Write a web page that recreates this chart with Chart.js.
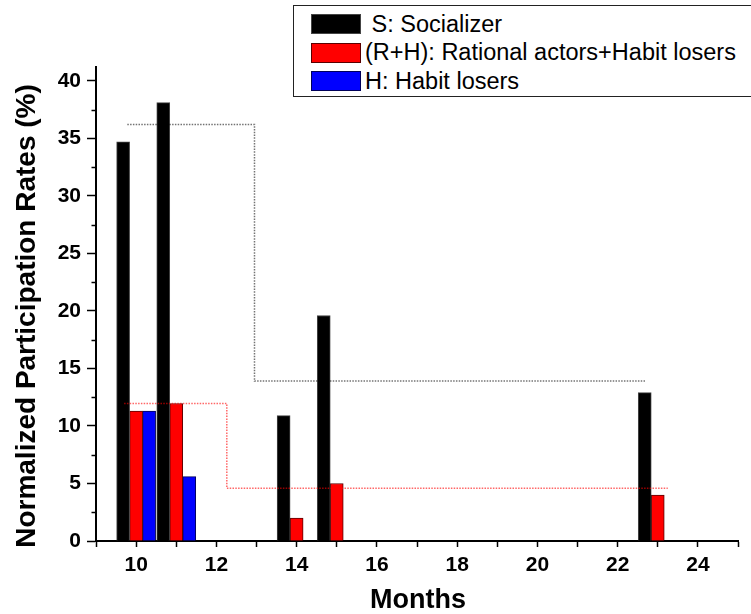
<!DOCTYPE html>
<html>
<head>
<meta charset="utf-8">
<title>Normalized Participation Rates</title>
<script src="https://cdn.jsdelivr.net/npm/chart.js@4.4.1/dist/chart.umd.min.js"></script>
<style>
    html, body { margin: 0; padding: 0; background: #fff; overflow: hidden; }
    #wrap { position: relative; width: 751px; height: 614px; }
    #legend {
        position: absolute; left: 293px; top: 5px; width: 480px; height: 92px;
        border: 1px solid #222; box-sizing: border-box; background: #fff;
        font: 23.5px "Liberation Sans", Arial, sans-serif; color: #000;
    }
    .lg-row { position: absolute; left: 17px; height: 20px; display: flex; align-items: center; white-space: pre; }
    .lg-sw { width: 50px; height: 20px; box-sizing: border-box; border: 1px solid; margin-right: 4px; }
</style>
</head>
<body>
<div id="wrap">
    <canvas id="chart" width="751" height="614"></canvas>
    <div id="legend"></div>
</div>
<script>
/* ---- data ---- */
const months = [10, 11, 14, 15, 23];
const socializer = [34.7, 38.1, 10.9, 19.6, 12.9];
const rationalHabit = [11.3, 11.95, 2.0, 5.0, 4.0];
const habitMonths = [10, 11];
const habitLosers = [11.3, 5.6];

// dotted step lines (period averages)
const sStepX = [9.78, 12.95, 12.95, 22.7];
const sStepY = [36.2, 36.2, 13.9, 13.9];
const rhStepX = [9.7, 12.26, 12.26, 23.25];
const rhStepY = [11.95, 11.95, 4.58, 4.58];

const seriesLabels = [' S: Socializer', '(R+H): Rational actors+Habit losers', 'H: Habit losers'];
const seriesColors = ['#000000', '#ff0000', '#0000ff'];
const seriesBorders = ['#444444', '#5a0000', '#00005a'];

const xTitle = 'Months';
const yTitle = 'Normalized Participation Rates (%)';

const FONT = '"Liberation Sans", Arial, sans-serif';

const toPoints = (xs, ys) => xs.map((x, i) => ({ x, y: ys[i] }));

// minor ticks on the y axis are shorter than the labelled ones
const minorTicks = {
    id: 'minorTicks',
    afterDraw(chart) {
        const { ctx, scales: { y } } = chart;
        ctx.save();
        ctx.strokeStyle = '#000';
        ctx.lineWidth = 1.5;
        y.ticks.forEach(t => {
            if (t.value % 5 === 0) return;
            const py = Math.round(y.getPixelForValue(t.value)) + 0.5;
            ctx.beginPath();
            ctx.moveTo(y.right - 4.5, py);
            ctx.lineTo(y.right, py);
            ctx.stroke();
        });
        ctx.restore();
    }
};

const axisTitles = {
    id: 'axisTitles',
    afterDraw(chart) {
        const { ctx, chartArea } = chart;
        ctx.save();
        ctx.fillStyle = '#000';
        ctx.textAlign = 'center';
        ctx.textBaseline = 'alphabetic';
        ctx.font = 'bold 27px ' + FONT;
        ctx.fillText(xTitle, (chartArea.left + chartArea.right) / 2 + 1, 608);
        ctx.translate(35, 316);
        ctx.rotate(-Math.PI / 2);
        ctx.font = 'bold 28px ' + FONT;
        ctx.fillText(yTitle, 0, 0);
        ctx.restore();
    }
};

const barOpts = (i) => ({
    type: 'bar',
    label: seriesLabels[i],
    backgroundColor: seriesColors[i],
    borderColor: seriesBorders[i],
    borderWidth: 1,
    barThickness: 13,
    order: 1
});

new Chart(document.getElementById('chart'), {
    type: 'bar',
    data: {
        datasets: [
            { ...barOpts(0), data: toPoints(months, socializer) },
            { ...barOpts(1), data: toPoints(months, rationalHabit) },
            { ...barOpts(2), data: toPoints(habitMonths, habitLosers) },
            {
                type: 'line', label: 'S mean', data: toPoints(sStepX, sStepY),
                borderColor: 'rgba(0,0,0,0.55)', borderWidth: 1.5, borderDash: [1.5, 1.3],
                pointRadius: 0, fill: false, tension: 0, order: 0
            },
            {
                type: 'line', label: 'R+H mean', data: toPoints(rhStepX, rhStepY),
                borderColor: 'rgba(255,0,0,0.6)', borderWidth: 1.5, borderDash: [1.5, 1.3],
                pointRadius: 0, fill: false, tension: 0, order: 0
            }
        ]
    },
    options: {
        responsive: false,
        animation: false,
        devicePixelRatio: 1,
        layout: { padding: { top: 67, right: 13, bottom: 0, left: 0 } },
        plugins: { legend: { display: false }, tooltip: { enabled: false } },
        scales: {
            x: {
                type: 'linear',
                min: 9, max: 25,
                offset: false,
                afterFit: s => { s.height = 73; },
                border: { color: '#000', width: 2 },
                grid: { drawOnChartArea: false, offset: false, tickLength: 6, tickColor: '#000', tickWidth: 1.5 },
                ticks: {
                    stepSize: 1, autoSkip: false, maxRotation: 0, padding: 6,
                    color: '#000', font: { family: FONT, size: 21, weight: 'bold' },
                    callback: v => (v % 2 === 0 ? v : '')
                }
            },
            y: {
                min: 0, max: 41.2,
                afterFit: s => { s.width = 96; },
                border: { color: '#000', width: 2 },
                grid: {
                    drawOnChartArea: false, tickLength: 9, tickWidth: 1.5,
                    tickColor: c => (c.tick && c.tick.value % 5 === 0 ? '#000' : 'rgba(0,0,0,0)')
                },
                ticks: {
                    stepSize: 2.5, includeBounds: false, autoSkip: false, padding: 6,
                    color: '#000', font: { family: FONT, size: 21, weight: 'bold' },
                    callback: v => (v % 5 === 0 ? v : '')
                }
            }
        }
    },
    plugins: [minorTicks, axisTitles]
});

// legend box, built from the series lists
const legend = document.getElementById('legend');
seriesLabels.forEach((label, i) => {
    const row = document.createElement('div');
    row.className = 'lg-row';
    row.style.top = (8 + i * 28.7) + 'px';
    const sw = document.createElement('span');
    sw.className = 'lg-sw';
    sw.style.background = seriesColors[i];
    sw.style.borderColor = seriesBorders[i];
    const txt = document.createElement('span');
    txt.textContent = label;
    row.appendChild(sw);
    row.appendChild(txt);
    legend.appendChild(row);
});
</script>
</body>
</html>
